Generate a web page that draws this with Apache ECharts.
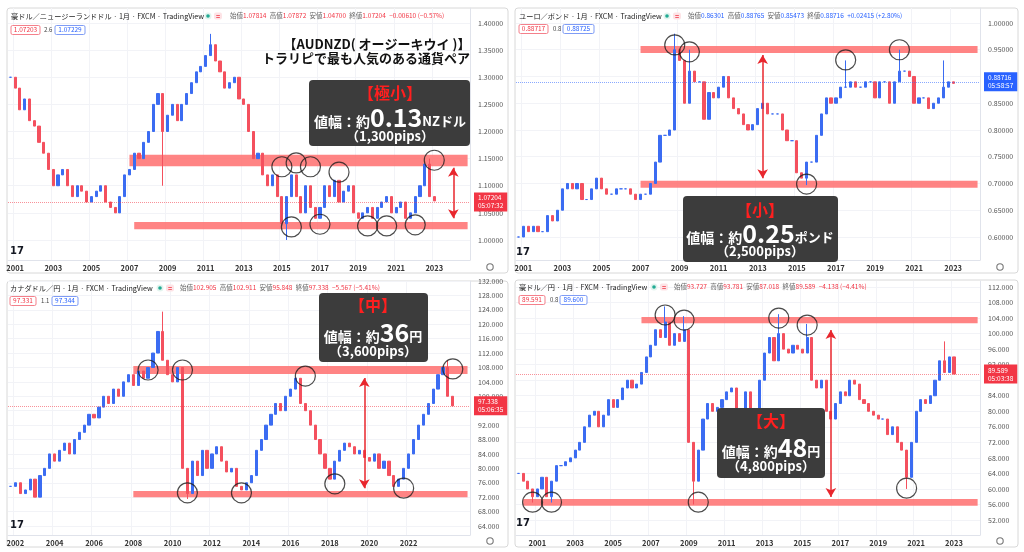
<!DOCTYPE html>
<html>
<head>
<meta charset="utf-8">
<script src="https://cdn.jsdelivr.net/npm/echarts@6/dist/echarts.min.js"></script>
<style>
html, body { margin: 0; background: #fff; }
#chart { width: 1024px; height: 552px; }
</style>
</head>
<body>
<div id="chart"></div>
<script>
// ---- data (quarterly closes) ----
// 豪ドル／NZドル
const audnzdStart = [2000, 4];
const audnzdClose = [
  1.30,
  1.28, 1.24, 1.26, 1.22,
  1.21, 1.18, 1.16, 1.13,
  1.10, 1.12, 1.13, 1.10,
  1.08, 1.10, 1.09, 1.07,
  1.08, 1.09, 1.10, 1.07,
  1.06, 1.05, 1.08, 1.12,
  1.13, 1.16, 1.15, 1.18,
  1.20, 1.25, 1.27, 1.20,
  1.23, 1.25, 1.22, 1.25,
  1.27, 1.29, 1.31, 1.32,
  1.34, 1.36, 1.33, 1.31,
  1.28, 1.29, 1.30, 1.26,
  1.25, 1.20, 1.15, 1.16,
  1.12, 1.10, 1.12, 1.08,
  1.03, 1.08, 1.12, 1.08,
  1.05, 1.10, 1.06, 1.04,
  1.06, 1.10, 1.08, 1.11,
  1.07, 1.09, 1.10, 1.05,
  1.04, 1.05, 1.06, 1.04,
  1.06, 1.07, 1.08, 1.05,
  1.06, 1.07, 1.04, 1.05,
  1.08, 1.10, 1.14, 1.08,
  1.07204
];
const audnzdWicks = [['2008Q4', 1.10, null], ['2011Q2', null, 1.38], ['2015Q2', 1.00, null], ['2022Q4', null, 1.15]];
const audnzdBands = [['2007Q1', 1.136, 1.157], ['2007Q2', 1.020, 1.033]];
const audnzdCircles = [['2015Q1', 1.135], ['2015Q4', 1.142], ['2016Q3', 1.135], ['2018Q1', 1.125], ['2023Q1', 1.147],
  ['2015Q3', 1.024], ['2017Q1', 1.029], ['2019Q3', 1.026], ['2020Q3', 1.026], ['2022Q1', 1.028]];
const audnzdArrow = ['2024Q1', 1.133, 1.040];
const audnzdTicks = [1.00, 1.05, 1.10, 1.15, 1.20, 1.25, 1.30, 1.35, 1.40];
const audnzdYears = ['2001', '2003', '2005', '2007', '2009', '2011', '2013', '2015', '2017', '2019', '2021', '2023'];

// ユーロ／ポンド
const eurgbpStart = [2000, 4];
const eurgbpClose = [
  0.60,
  0.62, 0.61, 0.62, 0.61,
  0.61, 0.64, 0.63, 0.65,
  0.69, 0.70, 0.69, 0.70,
  0.67, 0.67, 0.69, 0.71,
  0.69, 0.68, 0.68, 0.69,
  0.69, 0.69, 0.68, 0.67,
  0.68, 0.68, 0.70, 0.74,
  0.79, 0.79, 0.80, 0.95,
  0.93, 0.85, 0.91, 0.89,
  0.89, 0.82, 0.87, 0.86,
  0.88, 0.90, 0.86, 0.84,
  0.83, 0.81, 0.80, 0.81,
  0.84, 0.85, 0.83, 0.83,
  0.83, 0.80, 0.78, 0.78,
  0.72, 0.71, 0.74, 0.74,
  0.79, 0.83, 0.86, 0.85,
  0.86, 0.88, 0.88, 0.89,
  0.88, 0.88, 0.89, 0.89,
  0.86, 0.89, 0.89, 0.85,
  0.89, 0.91, 0.91, 0.90,
  0.85, 0.86, 0.86, 0.84,
  0.85, 0.86, 0.88, 0.89,
  0.88716
];
const eurgbpWicks = [['2008Q4', null, 0.98], ['2009Q3', null, 0.95], ['2015Q3', 0.697, null], ['2017Q3', null, 0.93], ['2020Q2', null, 0.95], ['2022Q3', null, 0.93]];
const eurgbpBands = [['2007Q1', 0.944, 0.957], ['2007Q1', 0.692, 0.705]];
const eurgbpCircles = [['2008Q4', 0.959], ['2009Q3', 0.946], ['2017Q3', 0.931], ['2020Q2', 0.950], ['2015Q3', 0.699]];
const eurgbpArrow = ['2013Q2', 0.940, 0.710];
const eurgbpTicks = [0.60, 0.65, 0.70, 0.75, 0.80, 0.85, 0.90, 0.95, 1.00];
const eurgbpYears = ['2001', '2003', '2005', '2007', '2009', '2011', '2013', '2015', '2017', '2019', '2021', '2023'];

// カナダドル／円
const cadjpyStart = [2001, 4];
const cadjpyClose = [
  75,
  76, 73, 74, 77,
  72, 78, 80, 84,
  82, 85, 87, 84,
  88, 90, 92, 95,
  94, 97, 100, 98,
  102, 100, 104, 106,
  103, 107, 105, 108,
  112, 118, 110, 106,
  104, 108, 80, 73,
  82, 78, 85, 80,
  84, 86, 82, 79,
  80, 75, 74, 76,
  78, 85, 88, 92,
  95, 98, 96, 100,
  102, 105, 98, 96,
  92, 88, 84, 80,
  77, 82, 85, 87,
  86, 84, 85, 83,
  82, 84, 80, 82,
  78, 75, 77, 80,
  84, 88, 92, 95,
  98, 102, 106, 108,
  100, 97.338
];
const cadjpyWicks = [['2009Q3', null, 123.5], ['2010Q4', 71.5, null], ['2024Q1', null, 110]];
const cadjpyBands = [['2008Q1', 106.2, 108.4], ['2008Q1', 72.0, 73.7]];
const cadjpyCircles = [['2008Q4', 107.3], ['2010Q3', 107.3], ['2016Q4', 105.6], ['2024Q2', 107.6],
  ['2010Q4', 73.2], ['2013Q3', 73.2], ['2018Q2', 75.7], ['2021Q4', 74.5]];
const cadjpyArrow = ['2019Q4', 105.1, 74.5];
const cadjpyTicks = [64, 68, 72, 76, 80, 84, 88, 92, 96, 100, 104, 108, 112, 116, 120, 124, 128, 132];
const cadjpyYears = ['2002', '2004', '2006', '2008', '2010', '2012', '2014', '2016', '2018', '2020', '2022'];

// 豪ドル／円
const audjpyStart = [2000, 1];
const audjpyClose = [
  64, 62, 60, 58,
  60, 63, 58, 62,
  66, 66, 67, 68,
  70, 72, 76, 79,
  80, 76, 79, 83,
  81, 83, 86, 88,
  86, 87, 90, 94,
  97, 101, 99, 103,
  97, 100, 98, 101,
  72, 62, 70, 78,
  82, 80, 81, 83,
  85, 86, 78, 79,
  85, 80, 80, 88,
  95, 99, 93, 100,
  96, 95, 97, 96,
  95, 99, 88, 86,
  88, 80, 78, 82,
  85, 84, 88, 87,
  83, 82, 80, 79,
  78, 78, 74, 76,
  72, 70, 63, 72,
  80, 83, 82, 84,
  88, 93, 90, 94,
  89.589
];
const audjpyWicks = [['2000Q4', 56.5, null], ['2001Q4', 56.5, null], ['2007Q4', null, 107], ['2008Q4', null, 104.5],
  ['2009Q2', 56, null], ['2013Q4', null, 105], ['2015Q2', null, 102.5], ['2020Q3', 60, null], ['2022Q3', null, 98]];
const audjpyBands = [['2006Q3', 102.7, 104.3], ['2000Q2', 55.7, 57.4]];
const audjpyCircles = [['2007Q4', 104.8], ['2008Q4', 103.5], ['2013Q4', 104.0], ['2015Q2', 102.2],
  ['2000Q4', 56.6], ['2001Q4', 56.6], ['2009Q3', 56.6], ['2020Q3', 60.2]];
const audjpyArrow = ['2016Q3', 100.9, 57.9];
const audjpyTicks = [52, 56, 60, 64, 68, 72, 76, 80, 84, 88, 92, 96, 100, 104, 108, 112];
const audjpyYears = ['2001', '2003', '2005', '2007', '2009', '2011', '2013', '2015', '2017', '2019', '2021', '2023'];

// ---- helpers ----
const UP = '#3b6cf2';
const DOWN = '#f4505e';

function makeCats(start, count) {
  const base = start[0] * 4 + start[1] - 1;
  const out = [];
  for (let i = 0; i < count; i++) {
    const n = base + i;
    out.push(Math.floor(n / 4) + 'Q' + (n % 4 + 1));
  }
  return out;
}

function toCandles(cats, closes, wicks) {
  const w = {};
  wicks.forEach(r => { w[r[0]] = r; });
  return closes.map((c, i) => {
    const o = i === 0 ? c : closes[i - 1];
    let lo = Math.min(o, c), hi = Math.max(o, c);
    const k = w[cats[i]];
    if (k) {
      if (k[1] != null) lo = Math.min(lo, k[1]);
      if (k[2] != null) hi = Math.max(hi, k[2]);
    }
    return [o, c, lo, hi];
  });
}

const panels = [
  { start: audnzdStart, close: audnzdClose, wicks: audnzdWicks, bands: audnzdBands, circles: audnzdCircles, arrow: audnzdArrow, ticks: audnzdTicks, years: audnzdYears,
    n: 97, grid: { left: 8, top: 8, width: 462, height: 252 }, min: 0.9631, max: 1.4277, digits: 5,
    tagColor: '#f23645', lineColor: 'rgba(242,54,69,0.55)', tagText: '1.07204\n05:07:32' },
  { start: eurgbpStart, close: eurgbpClose, wicks: eurgbpWicks, bands: eurgbpBands, circles: eurgbpCircles, arrow: eurgbpArrow, ticks: eurgbpTicks, years: eurgbpYears,
    n: 95, grid: { left: 516, top: 8, width: 464, height: 252 }, min: 0.557, max: 1.028, digits: 5,
    tagColor: '#2962ff', lineColor: 'rgba(41,98,255,0.55)', tagText: '0.88716\n05:58:57' },
  { start: cadjpyStart, close: cadjpyClose, wicks: cadjpyWicks, bands: cadjpyBands, circles: cadjpyCircles, arrow: cadjpyArrow, ticks: cadjpyTicks, years: cadjpyYears,
    n: 94, grid: { left: 8, top: 281, width: 462, height: 254 }, min: 61.5, max: 132.0, digits: 3,
    tagColor: '#f23645', lineColor: 'rgba(242,54,69,0.55)', tagText: '97.338\n05:06:35' },
  { start: audjpyStart, close: audjpyClose, wicks: audjpyWicks, bands: audjpyBands, circles: audjpyCircles, arrow: audjpyArrow, ticks: audjpyTicks, years: audjpyYears,
    n: 98, grid: { left: 516, top: 281, width: 464, height: 254 }, min: 48.14, max: 113.55, digits: 3,
    tagColor: '#f23645', lineColor: 'rgba(242,54,69,0.55)', tagText: '89.589\n05:03:38' }
];

const grids = [], xAxes = [], yAxes = [], series = [];
panels.forEach((p, i) => {
  const cats = makeCats(p.start, p.n);
  const last = cats[cats.length - 1];
  const showYear = (idx, v) => v.endsWith('Q1') && p.years.indexOf(v.slice(0, 4)) >= 0;
  grids.push(p.grid);
  xAxes.push({
    type: 'category', gridIndex: i, data: cats, boundaryGap: true,
    axisLine: { show: true, lineStyle: { color: '#e0e3eb' } },
    axisTick: { show: false },
    axisLabel: { interval: showYear, formatter: v => v.slice(0, 4), fontSize: 7.5, color: '#333', margin: 4, fontWeight: 'bold' },
    splitLine: { show: true, interval: showYear, lineStyle: { color: '#f2f3f7' } }
  });
  yAxes.push({
    type: 'value', gridIndex: i, position: 'right', min: p.min, max: p.max,
    axisLine: { show: true, lineStyle: { color: '#e0e3eb' } },
    axisTick: { show: false, customValues: p.ticks },
    axisLabel: { customValues: p.ticks, formatter: v => v.toFixed(p.digits), fontSize: 7, color: '#555', margin: 8 },
    splitLine: { show: true, lineStyle: { color: '#f2f3f7' } }
  });
  const lastClose = p.close[p.close.length - 1];
  series.push({
    type: 'candlestick', xAxisIndex: i, yAxisIndex: i,
    data: toCandles(cats, p.close, p.wicks), barWidth: '55%',
    itemStyle: { color: UP, color0: DOWN, borderColor: UP, borderColor0: DOWN, borderWidth: 1 },
    markArea: {
      silent: true,
      itemStyle: { color: '#ff6f6f', opacity: 0.85 },
      data: p.bands.map(b => [{ xAxis: b[0], yAxis: b[1] }, { xAxis: last, yAxis: b[2] }])
    },
    markLine: {
      silent: true, symbol: 'none', animation: false,
      data: [
        { yAxis: lastClose, lineStyle: { color: p.lineColor, type: 'dotted', width: 1 },
          label: { show: true, position: 'end', formatter: p.tagText, backgroundColor: p.tagColor, color: '#fff',
            fontSize: 6.5, lineHeight: 8, padding: [2, 4, 1, 4], distance: 4 } },
        [
          { coord: [p.arrow[0], p.arrow[1]], symbol: 'arrow', symbolSize: [8, 9],
            lineStyle: { color: '#e8262d', width: 1.5, type: 'solid' }, label: { show: false } },
          { coord: [p.arrow[0], p.arrow[2]], symbol: 'arrow', symbolSize: [8, 9] }
        ]
      ]
    }
  });
  series.push({
    type: 'scatter', xAxisIndex: i, yAxisIndex: i, data: p.circles, silent: true, z: 6,
    symbol: 'circle', symbolSize: 20,
    itemStyle: { color: 'rgba(0,0,0,0)', borderColor: '#1e1e1e', borderWidth: 1.2 }
  });
});

// ---- annotations ----
const FONT = '"Noto Sans CJK JP", sans-serif';
const g = [];

function frame(x, y, w, h) {
  g.push({ type: 'rect', z: -1, shape: { x: x, y: y, width: w, height: h, r: 3 }, style: { fill: '#fff', stroke: '#d8d8d8', lineWidth: 1 } });
}
function header(x, y, title, iconX, ohlcX, ohlc, valColor, tagY, tagA, mid, tagB, midX, tagBX) {
  g.push({ type: 'text', z: 50, x: x, y: y, style: { text: title, font: '7.2px ' + FONT, fill: '#222', verticalAlign: 'middle' } });
  g.push({ type: 'circle', z: 50, shape: { cx: iconX, cy: y, r: 3.5 }, style: { fill: '#e3f4ee' } });
  g.push({ type: 'circle', z: 51, shape: { cx: iconX, cy: y, r: 1.8 }, style: { fill: '#22ab94' } });
  g.push({ type: 'rect', z: 50, shape: { x: iconX + 6, y: y - 3.5, width: 8, height: 7, r: 2 }, style: { fill: '#fde3e6' } });
  g.push({ type: 'text', z: 51, x: iconX + 10, y: y, style: { text: '=', font: 'bold 7px ' + FONT, fill: '#f23645', align: 'center', verticalAlign: 'middle' } });
  const parts = ohlc.map((v, k) => k < 4 ? '{l|' + ['始値', '高値', '安値', '終値'][k] + '}{v|' + v + '}' : '{v|' + v + '}').join(' ');
  g.push({ type: 'text', z: 50, x: ohlcX, y: y, style: { text: parts, verticalAlign: 'middle',
    rich: { l: { font: '6.5px ' + FONT, fill: '#666' }, v: { font: '6.5px ' + FONT, fill: valColor } } } });
  g.push({ type: 'rect', z: 50, shape: { x: x, y: tagY - 4.5, width: tagA[1], height: 9, r: 1.5 }, style: { fill: '#fff', stroke: '#f4808b', lineWidth: 1 } });
  g.push({ type: 'text', z: 51, x: x + tagA[1] / 2, y: tagY, style: { text: tagA[0], font: '6.5px ' + FONT, fill: '#f23645', align: 'center', verticalAlign: 'middle' } });
  g.push({ type: 'text', z: 51, x: midX, y: tagY, style: { text: mid, font: '6px ' + FONT, fill: '#444', verticalAlign: 'middle' } });
  g.push({ type: 'rect', z: 50, shape: { x: tagBX, y: tagY - 4.5, width: tagB[1], height: 9, r: 1.5 }, style: { fill: '#fff', stroke: '#7f9cf5', lineWidth: 1 } });
  g.push({ type: 'text', z: 51, x: tagBX + tagB[1] / 2, y: tagY, style: { text: tagB[0], font: '6.5px ' + FONT, fill: '#2962ff', align: 'center', verticalAlign: 'middle' } });
}
function extras(logoX, logoY, gearX, gearY) {
  g.push({ type: 'text', z: 50, x: logoX, y: logoY, style: { text: '17', font: 'bold 10px "DejaVu Sans"', fill: '#131722', align: 'center', verticalAlign: 'middle' } });
  g.push({ type: 'circle', z: 50, shape: { cx: gearX, cy: gearY, r: 3.2 }, style: { fill: 'none', stroke: '#777', lineWidth: 1.1 } });
}
function box(x, y, w, h, head, value, unit, pips, cx, y1, y2, y3) {
  g.push({ type: 'rect', z: 60, shape: { x: x, y: y, width: w, height: h, r: 4 }, style: { fill: '#3c3c3c' } });
  g.push({ type: 'text', z: 61, x: cx, y: y1, style: { text: head, font: 'bold 16px ' + FONT, fill: '#ff1f1f', align: 'center', verticalAlign: 'middle' } });
  g.push({ type: 'text', z: 61, x: cx, y: y2, style: { text: '{a|値幅：約}{b|' + value + '}{c|' + unit + '}', align: 'center', verticalAlign: 'middle',
    rich: {
      a: { font: 'bold 14px ' + FONT, fill: '#fff', verticalAlign: 'bottom', padding: [0, 0, 1, 0] },
      b: { font: 'bold 25px ' + FONT, fill: '#fff', verticalAlign: 'bottom' },
      c: { font: 'bold 13px ' + FONT, fill: '#fff', verticalAlign: 'bottom', padding: [0, 0, 2, 0] }
    } } });
  g.push({ type: 'text', z: 61, x: cx, y: y3, style: { text: pips, font: 'bold 13px ' + FONT, fill: '#fff', align: 'center', verticalAlign: 'middle' } });
}

frame(7, 8, 501, 265);
frame(515, 8, 503, 265);
frame(7, 281, 501, 266);
frame(515, 280, 503, 267);

header(11, 16, '豪ドル／ニュージーランドドル · 1月 · FXCM · TradingView', 208, 230,
  ['1.07814', '1.07872', '1.04700', '1.07204', '−0.00610 (−0.57%)'], '#f23645', 30, ['1.07203', 29], '2.6', ['1.07229', 30], 44, 55);
header(519, 16, 'ユーロ／ポンド · 1月 · FXCM · TradingView', 667, 688,
  ['0.86301', '0.88765', '0.85473', '0.88716', '+0.02415 (+2.80%)'], '#2962ff', 29, ['0.88717', 29], '0.8', ['0.88725', 31], 553, 563);
header(10, 288, 'カナダドル／円 · 1月 · FXCM · TradingView', 160, 180,
  ['102.905', '102.911', '95.848', '97.338', '−5.567 (−5.41%)'], '#f23645', 301, ['97.331', 26], '1.1', ['97.344', 26], 41, 52);
header(519, 287, '豪ドル／円 · 1月 · FXCM · TradingView', 654, 674,
  ['93.727', '93.781', '87.018', '89.589', '−4.138 (−4.41%)'], '#f23645', 300, ['89.591', 26], '0.8', ['89.600', 27], 550, 560);

extras(17, 251, 490, 267);
extras(523, 252, 1000, 267);
extras(17, 525, 490, 541);
extras(523, 523, 1000, 541);

g.push({ type: 'text', z: 60, x: 377, y: 44, style: { text: '【AUDNZD( オージーキウイ )】', font: 'bold 13px ' + FONT, fill: '#111', align: 'center', verticalAlign: 'middle' } });
g.push({ type: 'text', z: 60, x: 366, y: 58, style: { text: 'トラリピで最も人気のある通貨ペア', font: 'bold 13px ' + FONT, fill: '#111', align: 'center', verticalAlign: 'middle' } });

box(309, 80, 161, 66, '【極小】', '0.13', 'NZドル', '（1,300pips）', 390, 93, 117, 136);
box(683, 196, 155, 66, '【小】', '0.25', 'ポンド', '（2,500pips）', 760, 210, 233, 251);
box(319, 293, 109, 69, '【中】', '36', '円', '（3,600pips）', 373, 305, 332, 351);
box(717, 408, 108, 70, '【大】', '48', '円', '（4,800pips）', 771, 421, 447, 466);

const chart = echarts.init(document.getElementById('chart'));
chart.setOption({
  animation: false,
  textStyle: { fontFamily: FONT },
  grid: grids,
  xAxis: xAxes,
  yAxis: yAxes,
  series: series,
  graphic: { elements: g }
});
</script>
</body>
</html>
